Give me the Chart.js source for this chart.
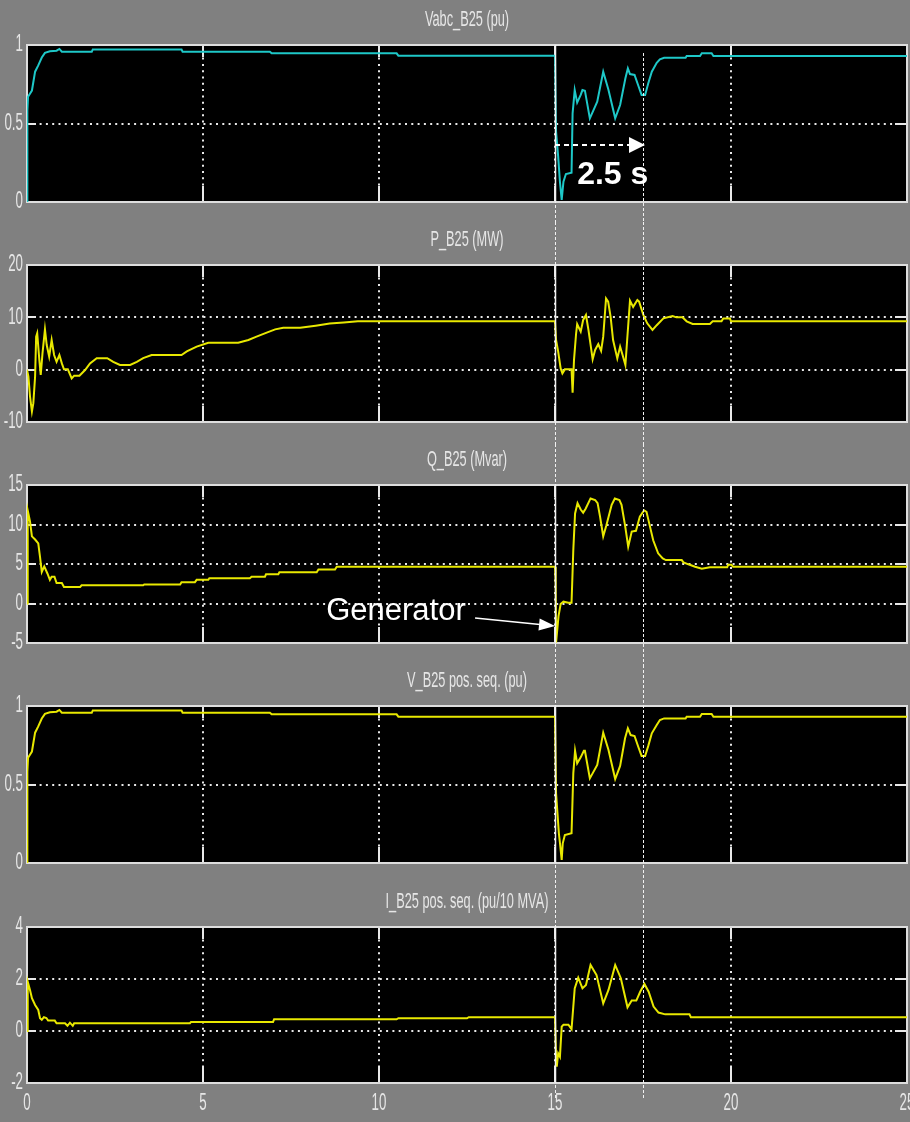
<!DOCTYPE html>
<html>
<head>
<meta charset="utf-8">
<title>B25 scope traces</title>
<script src="https://cdn.jsdelivr.net/npm/chart.js@4.4.1/dist/chart.umd.min.js"></script>
<style>
  html, body { margin: 0; padding: 0; background: #808080; }
  #wrap { position: relative; width: 910px; height: 1122px; overflow: hidden; background: #808080; }
  canvas { position: absolute; left: 0; display: block; }
</style>
</head>
<body>
<div id="wrap">
  <canvas id="cVabc" width="910" height="222" style="top:0px;width:910px;height:222px"></canvas>
  <canvas id="cP" width="910" height="222" style="top:222px;width:910px;height:222px"></canvas>
  <canvas id="cQ" width="910" height="221" style="top:444px;width:910px;height:221px"></canvas>
  <canvas id="cVpos" width="910" height="220" style="top:665px;width:910px;height:220px"></canvas>
  <canvas id="cI" width="910" height="237" style="top:885px;width:910px;height:237px"></canvas>
</div>
<script>
// ---- time axis (s) ----
const xTicks = [0, 5, 10, 15, 20, 25];
const faultTime = 15;
const recoveryTime = 2.5;

// ---- Vabc_B25 (pu) ----
const vabcT = [0, 0.01, 0.03, 0.14, 0.23, 0.32, 0.42, 0.51, 0.65, 0.84,
  0.92, 0.99, 1.84, 1.87, 4.39, 4.42, 6.9, 6.95, 10.5, 10.55,
  15.0, 15.03, 15.09, 15.14, 15.19, 15.24, 15.31, 15.47, 15.5, 15.56,
  15.63, 15.73, 15.78, 15.85, 15.99, 16.2, 16.37, 16.52, 16.71, 16.85,
  17.0, 17.07, 17.13, 17.26, 17.37, 17.46, 17.56, 17.65, 17.75, 17.89,
  17.98, 18.1, 18.71, 18.74, 19.12, 19.17, 19.45, 19.5, 25];
const vabcV = [0, 0.58, 0.67, 0.71, 0.83, 0.87, 0.92, 0.95, 0.96, 0.964,
  0.975, 0.957, 0.957, 0.972, 0.972, 0.957, 0.957, 0.947, 0.947, 0.932,
  0.932, 0.448, 0.289, 0.129, 0.013, 0.129, 0.178, 0.187, 0.565, 0.713,
  0.633, 0.682, 0.713, 0.709, 0.533, 0.639, 0.83, 0.713, 0.533, 0.618,
  0.788, 0.851, 0.815, 0.809, 0.739, 0.682, 0.682, 0.756, 0.83, 0.887,
  0.909, 0.919, 0.919, 0.93, 0.93, 0.947, 0.947, 0.93, 0.93];
const vabcTicks = [0, 0.5, 1];

// ---- P_B25 (MW) ----
const pT = [0, 0.04, 0.085, 0.14, 0.18, 0.23, 0.26, 0.29, 0.35, 0.39,
  0.44, 0.51, 0.56, 0.63, 0.70, 0.77, 0.84, 0.92, 0.99, 1.05,
  1.16, 1.27, 1.34, 1.49, 1.65, 1.79, 1.98, 2.28, 2.45, 2.64,
  2.93, 3.12, 3.30, 3.54, 4.39, 4.54, 4.82, 5.15, 6.0, 6.29,
  6.52, 6.81, 7.05, 7.28, 7.76, 8.2, 8.6, 9.0, 9.4, 15.0,
  15.03, 15.09, 15.16, 15.21, 15.28, 15.47, 15.5, 15.54, 15.6, 15.63,
  15.73, 15.8, 15.88, 15.95, 16.07, 16.14, 16.23, 16.31, 16.37, 16.45,
  16.51, 16.58, 16.65, 16.77, 16.85, 16.92, 17.0, 17.05, 17.13, 17.22,
  17.34, 17.39, 17.51, 17.62, 17.77, 17.89, 18.08, 18.34, 18.45, 18.62,
  18.74, 18.91, 19.4, 19.48, 19.73, 19.78, 19.97, 20.0, 25];
const pV = [0, -1.3, -5.1, -8.0, -6.4, -1.3, 6.3, 6.95, 1.86, -1.0,
  3.1, 7.7, 4.7, 2.5, 5.67, 2.8, 1.5, 2.8, 1.2, 0.07,
  0.07, -1.66, -1.15, -1.15, -0.06, 1.2, 2.2, 2.2, 1.5, 0.89,
  0.89, 1.5, 2.2, 2.8, 2.8, 3.5, 4.4, 5.15, 5.15, 5.67,
  6.3, 7.07, 7.7, 8.0, 8.0, 8.4, 8.8, 9.0, 9.24, 9.24,
  5.67, 3.44, 0.25, -0.7, 0.06, 0.06, -4.4, 1.86, 6.95, 8.7,
  7.26, 9.5, 10.45, 7.6, 1.98, 3.76, 4.9, 3.6, 6.3, 13.6,
  13.0, 10.1, 5.67, 2.16, 4.4, 2.8, 0.9, 5.67, 13.2, 12.0,
  13.3, 13.0, 10.45, 8.86, 7.6, 8.5, 9.8, 10.25, 10.0, 10.0,
  9.24, 8.74, 8.74, 9.24, 9.24, 9.8, 9.8, 9.24, 9.24];
const pTicks = [-10, 0, 10, 20];

// ---- Q_B25 (Mvar) ----
const qT = [0, 0.02, 0.085, 0.14, 0.23, 0.32, 0.37, 0.42, 0.49, 0.58,
  0.65, 0.70, 0.78, 0.84, 0.99, 1.05, 1.51, 1.55, 3.30, 3.33,
  4.35, 4.39, 4.77, 4.82, 5.15, 5.18, 6.33, 6.38, 6.76, 6.79,
  7.14, 7.17, 8.23, 8.28, 8.75, 8.8, 15.0, 15.02, 15.03, 15.1,
  15.16, 15.24, 15.38, 15.47, 15.52, 15.57, 15.64, 15.73, 15.8, 15.87,
  16.01, 16.14, 16.21, 16.28, 16.37, 16.46, 16.61, 16.7, 16.83, 16.89,
  16.99, 17.08, 17.18, 17.3, 17.41, 17.53, 17.6, 17.7, 17.79, 17.93,
  18.06, 18.15, 18.6, 18.65, 18.79, 18.98, 19.17, 19.4, 19.89, 19.92,
  20.01, 20.06, 25];
const qV = [0, 11.8, 10.4, 8.5, 8.1, 7.6, 5.9, 4.0, 4.7, 3.8,
  3.0, 3.4, 3.4, 2.6, 2.6, 2.1, 2.1, 2.3, 2.3, 2.4,
  2.4, 2.7, 2.7, 3.0, 3.0, 3.2, 3.2, 3.4, 3.4, 3.7,
  3.7, 3.95, 3.95, 4.3, 4.3, 4.66, 4.66, 2.5, -4.96, -1.6,
  -0.06, 0.23, 0.1, 0.1, 6.77, 11.4, 12.7, 11.9, 11.5, 12.0,
  13.3, 13.1, 12.7, 11.0, 8.5, 9.9, 12.5, 13.3, 13.1, 12.5,
  9.9, 7.2, 9.1, 9.2, 11.0, 11.8, 11.6, 9.7, 8.0, 6.35,
  5.7, 5.5, 5.5, 5.2, 4.96, 4.66, 4.4, 4.58, 4.58, 4.9,
  4.9, 4.66, 4.66];
const qTicks = [-5, 0, 5, 10, 15];

// ---- V_B25 pos. seq. (pu) ----
const vposT = [0, 0.01, 0.03, 0.14, 0.23, 0.32, 0.42, 0.51, 0.65, 0.84,
  0.92, 0.99, 1.84, 1.87, 4.39, 4.42, 6.9, 6.95, 10.5, 10.55,
  15.0, 15.03, 15.07, 15.11, 15.14, 15.19, 15.22, 15.28, 15.47, 15.52,
  15.57, 15.63, 15.73, 15.82, 15.85, 15.99, 16.2, 16.37, 16.52, 16.71,
  16.85, 16.99, 17.07, 17.15, 17.26, 17.37, 17.46, 17.56, 17.65, 17.75,
  17.89, 17.98, 18.1, 18.71, 18.74, 19.12, 19.17, 19.45, 19.5, 25];
const vposV = [0, 0.58, 0.67, 0.71, 0.83, 0.87, 0.92, 0.95, 0.96, 0.964,
  0.975, 0.957, 0.957, 0.972, 0.972, 0.957, 0.957, 0.947, 0.947, 0.932,
  0.932, 0.444, 0.316, 0.189, 0.129, 0.019, 0.125, 0.178, 0.189, 0.571,
  0.715, 0.635, 0.673, 0.715, 0.715, 0.539, 0.624, 0.83, 0.72, 0.535,
  0.618, 0.794, 0.858, 0.815, 0.809, 0.737, 0.682, 0.682, 0.746, 0.826,
  0.879, 0.911, 0.921, 0.921, 0.932, 0.932, 0.949, 0.949, 0.932, 0.932];
const vposTicks = [0, 0.5, 1];

// ---- I_B25 pos. seq. (pu/10 MVA) ----
const iT = [0, 0.02, 0.085, 0.14, 0.23, 0.32, 0.37, 0.42, 0.48, 0.55,
  0.6, 0.79, 0.84, 1.08, 1.15, 1.22, 1.3, 1.34, 4.63, 4.66,
  6.99, 7.02, 10.5, 10.55, 12.5, 12.55, 15.0, 15.03, 15.05, 15.09,
  15.14, 15.19, 15.24, 15.38, 15.47, 15.52, 15.56, 15.66, 15.78, 15.88,
  16.01, 16.18, 16.37, 16.52, 16.71, 16.87, 17.06, 17.18, 17.31, 17.42,
  17.54, 17.66, 17.8, 17.94, 18.13, 18.82, 18.86, 25];
const iV = [0, 1.9, 1.58, 1.26, 1.0, 0.81, 0.49, 0.43, 0.53, 0.5,
  0.4, 0.4, 0.3, 0.3, 0.2, 0.32, 0.2, 0.3, 0.3, 0.35,
  0.35, 0.45, 0.45, 0.49, 0.49, 0.53, 0.53, -0.99, -1.37, -0.86,
  -0.99, 0.17, 0.24, 0.24, 0.07, 0.94, 1.64, 2.05, 1.64, 1.77,
  2.54, 2.15, 1.06, 1.58, 2.54, 2.03, 0.91, 1.17, 1.17, 1.51,
  1.81, 1.51, 0.94, 0.71, 0.64, 0.64, 0.53, 0.53];
const iTicks = [-2, 0, 2, 4];

// ---- styling ----
const GRID = '#e8e8e8';
const FRAME = '#dedede';
const LABEL = '#e6e6e6';
const CYAN = '#1ec8c8';
const YELLOW = '#e8e800';
const FONT = '"Liberation Sans", Arial, sans-serif';

function condensedText(ctx, str, x, y, align, size, sx) {
  ctx.save();
  ctx.translate(x, y);
  ctx.scale(sx, 1);
  ctx.font = size + 'px ' + FONT;
  ctx.textAlign = align;
  ctx.textBaseline = 'middle';
  ctx.fillStyle = LABEL;
  ctx.fillText(str, 0, 0);
  ctx.restore();
}

function seg(ctx, x1, y1, x2, y2) {
  ctx.beginPath(); ctx.moveTo(x1, y1); ctx.lineTo(x2, y2); ctx.stroke();
}

function arrowHead(ctx, tx, ty, fx, fy, len, half) {
  const ang = Math.atan2(ty - fy, tx - fx);
  ctx.beginPath();
  ctx.moveTo(tx, ty);
  ctx.lineTo(tx - len * Math.cos(ang) + half * Math.sin(ang), ty - len * Math.sin(ang) - half * Math.cos(ang));
  ctx.lineTo(tx - len * Math.cos(ang) - half * Math.sin(ang), ty - len * Math.sin(ang) + half * Math.cos(ang));
  ctx.closePath();
  ctx.fill();
}

// Scope look: black plot area, dotted grid from the scales, solid stubs at grid ends,
// light frame, condensed labels, and the fault / recovery markers through every panel.
function scopePlugin(cfg) {
  return {
    id: 'scope',
    beforeDraw(chart) {
      const ctx = chart.ctx, a = chart.chartArea;
      ctx.save();
      ctx.fillStyle = '#000000';
      ctx.fillRect(a.left, a.top, a.right - a.left, a.bottom - a.top);
      ctx.restore();
    },
    beforeDatasetsDraw(chart) {
      const ctx = chart.ctx, a = chart.chartArea, xs = chart.scales.x, ys = chart.scales.y;
      ctx.save();
      ctx.strokeStyle = GRID; ctx.lineWidth = 2; ctx.setLineDash([]);
      ctx.beginPath();
      xs.ticks.forEach(tk => {
        if (tk.value <= xs.min || tk.value >= xs.max) return;
        const px = Math.round(xs.getPixelForValue(tk.value));
        ctx.moveTo(px, a.top); ctx.lineTo(px, a.top + 12);
        ctx.moveTo(px, a.bottom - 16); ctx.lineTo(px, a.bottom);
      });
      ys.ticks.forEach(tk => {
        if (tk.value <= ys.min || tk.value >= ys.max) return;
        const py = Math.round(ys.getPixelForValue(tk.value));
        ctx.moveTo(a.left, py); ctx.lineTo(a.left + 9, py);
        ctx.moveTo(a.right - 12, py); ctx.lineTo(a.right, py);
      });
      ctx.stroke();
      ctx.strokeStyle = FRAME; ctx.lineWidth = 2;
      ctx.strokeRect(a.left, a.top, a.right - a.left, a.bottom - a.top);
      ctx.restore();
    },
    afterDraw(chart) {
      const ctx = chart.ctx, a = chart.chartArea, xs = chart.scales.x, ys = chart.scales.y;
      const H = chart.height;
      ctx.save();
      condensedText(ctx, cfg.title, (a.left + a.right) / 2, a.top - 25, 'center', 22, 0.58);
      ys.ticks.forEach(tk => condensedText(ctx, String(tk.value), a.left - 4, ys.getPixelForValue(tk.value), 'right', 23, 0.58));
      if (cfg.xLabels) {
        xs.ticks.forEach(tk => condensedText(ctx, String(tk.value), xs.getPixelForValue(tk.value), a.bottom + 21, 'center', 23, 0.58));
      }
      // fault and recovery markers
      const xf = Math.round(xs.getPixelForValue(faultTime)) + 0.5;
      const xr = Math.round(xs.getPixelForValue(faultTime + recoveryTime)) + 0.5;
      const yEnd = cfg.markEnd != null ? cfg.markEnd : H;
      const yStartF = cfg.first ? a.top : 0;
      const yStartR = cfg.first ? a.top + 8 : 0;
      ctx.strokeStyle = '#f2f2f2'; ctx.lineWidth = 1;
      ctx.setLineDash([3, 2]);
      seg(ctx, xf, yStartF, xf, yEnd);
      seg(ctx, xr, yStartR, xr, yEnd);
      ctx.setLineDash([]);
      ctx.lineWidth = 1.5;
      seg(ctx, xf, a.top, xf, a.bottom);
      if (cfg.annotate) cfg.annotate(ctx, xs, ys);
      ctx.restore();
    }
  };
}

function scopeChart(id, t, v, ticks, color, cfg) {
  const pts = t.map((x, i) => ({ x: x, y: v[i] }));
  return new Chart(document.getElementById(id), {
    type: 'line',
    data: { datasets: [{ data: pts, borderColor: color, borderWidth: 2, pointRadius: 0, tension: 0, fill: false }] },
    options: {
      responsive: false,
      animation: false,
      events: [],
      layout: { padding: { left: 27, right: 3, top: cfg.top, bottom: cfg.bottom } },
      plugins: { legend: { display: false }, tooltip: { enabled: false }, title: { display: false } },
      scales: {
        x: {
          type: 'linear', min: xTicks[0], max: xTicks[xTicks.length - 1],
          afterBuildTicks: s => { s.ticks = xTicks.map(val => ({ value: val })); },
          afterFit: s => { s.height = 0; },
          ticks: { display: false },
          grid: { color: GRID, lineWidth: 2, drawTicks: false },
          border: { display: false, dash: [2, 4.3] }
        },
        y: {
          type: 'linear', min: ticks[0], max: ticks[ticks.length - 1],
          afterBuildTicks: s => { s.ticks = ticks.map(val => ({ value: val })); },
          afterFit: s => { s.width = 0; },
          ticks: { display: false },
          grid: { color: GRID, lineWidth: 2, drawTicks: false },
          border: { display: false, dash: [2, 4.3] }
        }
      }
    },
    plugins: [scopePlugin(cfg)]
  });
}

scopeChart('cVabc', vabcT, vabcV, vabcTicks, CYAN, {
  title: 'Vabc_B25 (pu)', top: 45, bottom: 20, first: true,
  annotate(ctx, xs, ys) {
    // recovery-time span arrow
    const x0 = xs.getPixelForValue(faultTime);
    const x1 = xs.getPixelForValue(faultTime + recoveryTime);
    const y = ys.getPixelForValue(0.363);
    ctx.strokeStyle = '#ffffff'; ctx.fillStyle = '#ffffff';
    ctx.lineWidth = 2; ctx.setLineDash([5, 4]);
    seg(ctx, x0, y, x1 - 14, y);
    ctx.setLineDash([]);
    arrowHead(ctx, x1 + 2, y, x0, y, 16, 8);
    ctx.font = 'bold 32px ' + FONT;
    ctx.textAlign = 'left'; ctx.textBaseline = 'middle';
    ctx.fillText(recoveryTime + ' s', xs.getPixelForValue(15.63), ys.getPixelForValue(0.17));
  }
});

scopeChart('cP', pT, pV, pTicks, YELLOW, { title: 'P_B25 (MW)', top: 43, bottom: 22 });

scopeChart('cQ', qT, qV, qTicks, YELLOW, {
  title: 'Q_B25 (Mvar)', top: 41, bottom: 22,
  annotate(ctx, xs, ys) {
    ctx.fillStyle = '#ffffff'; ctx.strokeStyle = '#ffffff';
    ctx.font = '31px ' + FONT;
    ctx.textAlign = 'left'; ctx.textBaseline = 'middle';
    ctx.fillText('Generator', xs.getPixelForValue(8.5), ys.getPixelForValue(-0.95));
    const fx = xs.getPixelForValue(12.73), fy = ys.getPixelForValue(-1.84);
    const tx = xs.getPixelForValue(faultTime), ty = ys.getPixelForValue(-2.85);
    ctx.lineWidth = 1.5;
    seg(ctx, fx, fy, tx - 10, ty - 1);
    arrowHead(ctx, tx, ty, fx, fy, 16, 6);
  }
});

scopeChart('cVpos', vposT, vposV, vposTicks, YELLOW, { title: 'V_B25 pos. seq. (pu)', top: 41, bottom: 22 });

scopeChart('cI', iT, iV, iTicks, YELLOW, {
  title: 'I_B25 pos. seq. (pu/10 MVA)', top: 42, bottom: 39, xLabels: true, markEnd: 215
});
</script>
</body>
</html>
